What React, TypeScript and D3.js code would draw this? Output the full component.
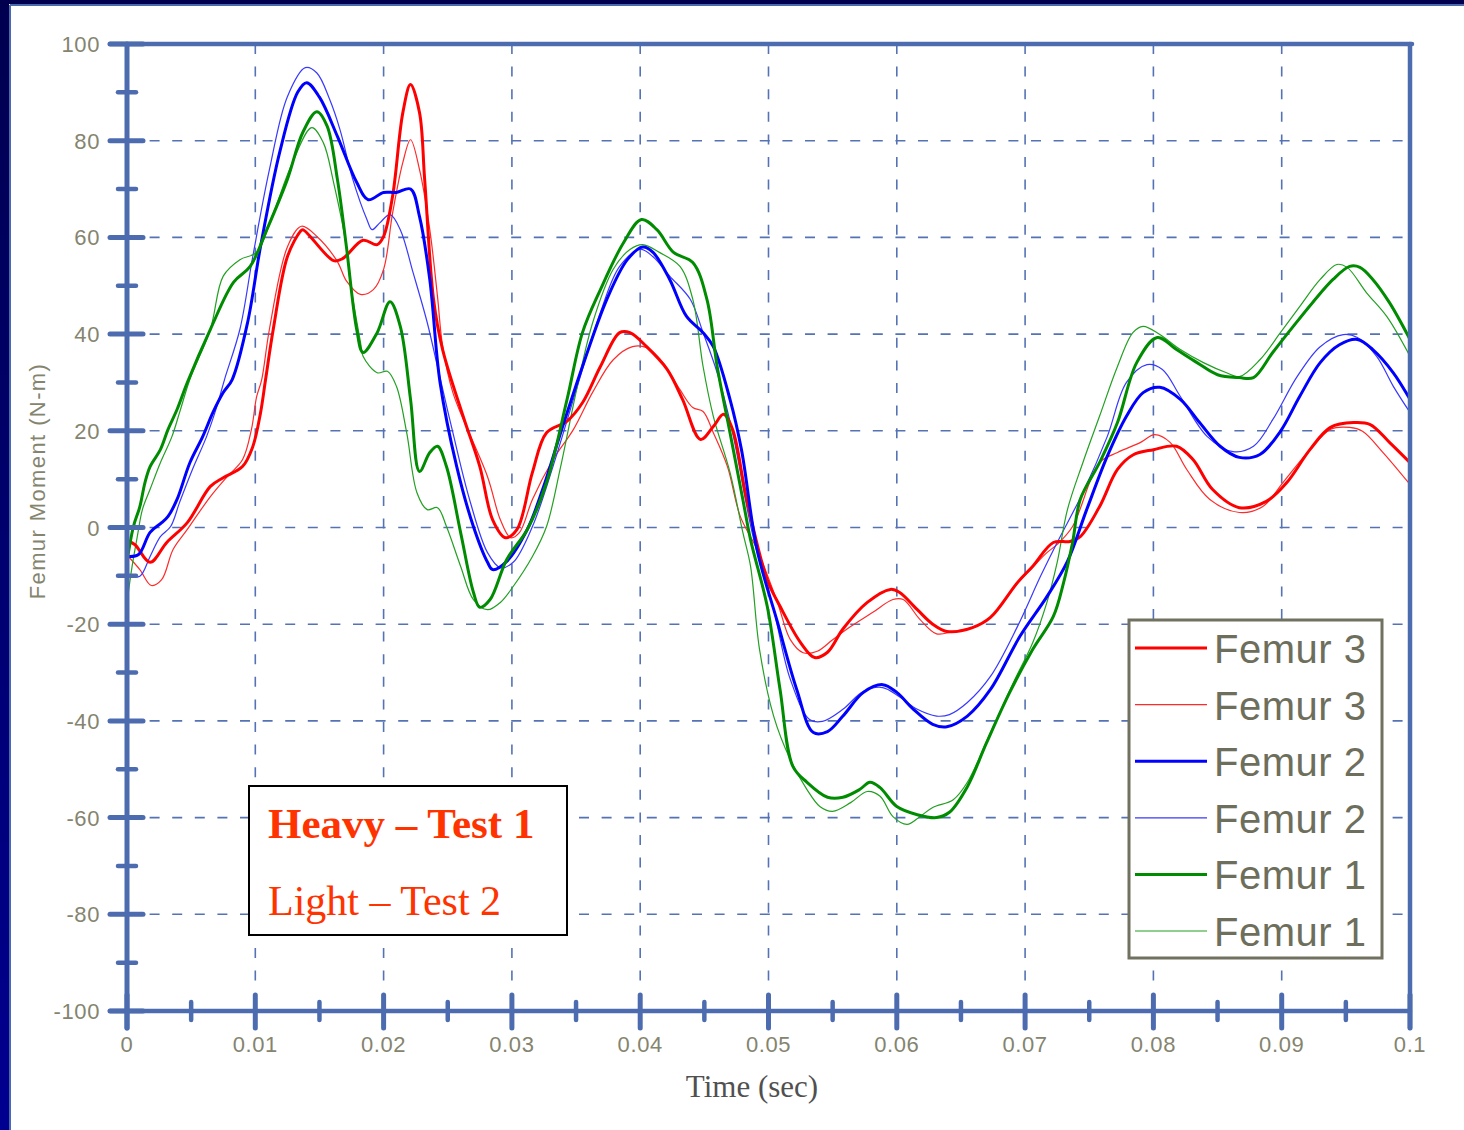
import React from "react";
import * as d3 from "d3";

// time in milliseconds, femur moment in N-m
const heavyFemur3: [number, number][] = [
  [0,-2.8],[0.6,-3.5],[1.8,-7.2],[3.1,-3.1],[4.7,1.0],[6.5,8.5],[7.5,10.3],[9.0,12.6],[9.8,16.7],[10.4,23.6],[10.8,30.6],[11.4,41],[12.5,56],[13.5,61.2],[13.7,61.6],[16.1,55.2],[16.8,55.6],[18.4,59.4],[19.5,58.5],[20.0,60.2],[20.7,68.5],[21.5,85.8],[22.1,91.6],[22.8,85.8],[23.2,72],[23.9,47],[24.6,36.8],[26.2,23],[27.5,12.6],[28.5,1.6],[29.5,-2.1],[30.4,-0.4],[31.6,11.4],[32.7,19.6],[34.3,22],[35.5,25.8],[36.9,33.3],[38.4,40.3],[39.2,40.3],[40.5,37.4],[42.1,32.7],[43.3,26.5],[44.7,18.2],[45.7,20.9],[46.5,23.4],[47.2,20.3],[48.3,5.8],[49.9,-10.8],[50.9,-16.3],[52.5,-23.8],[53.6,-26.9],[54.6,-25.8],[55.8,-21],[57.7,-15.5],[59.5,-12.8],[60.2,-13.4],[61.6,-17],[62.8,-20],[63.9,-21.5],[65.9,-20.7],[67.3,-18.6],[69.4,-11.4],[70.6,-8],[72.2,-3.1],[73.5,-2.9],[74.3,-1.9],[75.8,4.3],[77.2,12],[78.4,15],[80.0,16.1],[81.8,16.8],[83.1,14],[84.6,7.9],[86.7,4.1],[88.8,5.4],[90.4,9.3],[92.2,16.1],[93.8,20.7],[95.6,21.7],[96.9,21.3],[98.4,17.6],[100,13.4]
];
const lightFemur3: [number, number][] = [
  [0.1,-6],[1.0,-8.7],[1.9,-12],[2.7,-10.8],[3.6,-4.5],[4.7,-0.4],[6.5,6.4],[7.8,10.5],[9.0,14],[9.7,20.3],[10.1,27],[10.5,30.6],[11.1,41],[12.5,58],[13.6,62.3],[14.8,60.2],[16.4,55],[17.1,51],[18.2,48.2],[19.2,49.2],[20.0,53.4],[20.7,65],[21.5,75.5],[22.1,80.2],[22.8,74],[23.6,61.6],[24.2,47.8],[24.6,37.5],[25.4,27.9],[28.1,10.5],[29.1,1.6],[29.9,-2.1],[30.6,-1],[31.6,5.8],[33.2,14],[34.8,20.3],[36.3,28],[37.9,34.7],[39.4,37.4],[40.5,37.2],[41.8,34],[43.1,28.5],[44.1,24.8],[44.9,24],[45.7,19.6],[46.8,12.6],[47.8,2.3],[49.1,-4.5],[50.7,-15.5],[51.7,-23.2],[52.7,-25.9],[53.8,-25.6],[55.0,-23.2],[56.4,-20.5],[58.1,-17.6],[59.7,-14.9],[60.5,-14.9],[61.8,-19],[63.1,-22],[64.4,-21.5],[65.9,-20.7],[67.3,-18.6],[69.4,-11.6],[70.6,-8.2],[71.7,-5.2],[72.5,-3.5],[73.7,0.2],[75.8,13.4],[77.2,15.5],[79.0,17.6],[80.1,19.2],[81.3,17.6],[82.6,12],[84.4,5.8],[86.7,3.1],[88.5,4.3],[90.1,9.3],[92.0,15.5],[93.8,20.3],[95.3,20.7],[96.3,19.9],[97.9,15.5],[100,8.9]
];
const heavyFemur2: [number, number][] = [
  [0.1,-6],[0.9,-5.6],[1.8,-1],[2.7,1],[3.2,2.3],[3.9,5.8],[4.9,13.4],[5.9,18.8],[6.7,23.8],[7.5,27.9],[8.2,30.6],[9.4,42.4],[10.4,58],[11.9,77.6],[13.3,90],[14.0,92],[15.0,89],[16.4,80.9],[17.9,71.4],[18.8,67.8],[20.0,69.3],[21.0,69.3],[22.1,70],[22.8,64.3],[23.6,51.3],[24.4,30],[25.7,12.6],[27.0,0.2],[28.1,-7.2],[28.5,-8.7],[29.6,-7],[31.2,-0.4],[32.4,7.9],[33.8,19.6],[35.5,33.3],[37.4,47.2],[39.0,55.4],[40.2,58],[41.0,56.9],[42.3,51.3],[43.6,43.7],[44.9,40.3],[45.7,37.4],[47.0,26.5],[47.9,16],[49.1,-4.5],[50.7,-19.6],[52.2,-33.5],[53.5,-42.4],[54.6,-42.2],[55.8,-39],[57.4,-34.1],[58.9,-32.5],[60.0,-34.1],[61.3,-37.6],[62.8,-40.7],[63.9,-41.2],[65.5,-39],[67.3,-33.5],[69.6,-22.5],[71.7,-14.3],[73.3,-7],[74.8,3.7],[76.4,14.7],[77.9,23],[79.2,27.9],[80.5,29],[82.1,26.5],[83.6,21.7],[85.2,16.8],[86.7,14.5],[88.3,15.1],[89.9,19.9],[91.4,27.1],[93.0,34.1],[94.5,37.8],[95.9,38.9],[97.1,36.8],[98.7,32],[100,26.5]
];
const lightFemur2: [number, number][] = [
  [0.2,-10.1],[1.0,-10.1],[1.8,-6],[2.6,-1.9],[3.4,0.2],[4.1,5.2],[5.1,12],[6.2,18.8],[7.0,25],[7.6,30.6],[8.8,41],[9.8,56],[11.1,74],[12.5,89.1],[13.9,95.1],[14.8,94],[15.8,88.5],[16.6,82.3],[17.6,72],[18.7,63.7],[19.1,61.6],[19.7,63],[20.5,64.7],[21.3,61.6],[22.3,52.7],[23.4,42.4],[24.2,33.3],[25.4,19.6],[26.7,5.8],[28.1,-5.2],[29.1,-8.3],[30.1,-7.2],[31.6,0.2],[33.2,12.6],[35.1,29.2],[36.9,44.5],[38.4,54],[40.0,57.5],[41.0,56],[42.3,52],[43.9,47.2],[44.9,40.3],[46.0,32],[47.2,19.6],[48.8,-1.9],[50.4,-17],[51.7,-31.4],[53.2,-39.7],[54.2,-40.1],[55.8,-37.6],[57.4,-33.9],[58.9,-33.1],[60.2,-35],[61.6,-37.6],[63.1,-39],[64.1,-38.7],[65.5,-36.2],[67.3,-30.8],[69.4,-20.5],[71.2,-10.1],[72.5,-3.1],[74.5,7.2],[76.4,18.8],[77.9,30],[79.5,33.7],[80.7,32.7],[82.1,27.1],[84.2,18.8],[86.2,15.7],[87.8,16.8],[89.3,22.3],[91.2,31.2],[93.0,37.4],[94.8,39.9],[95.9,39.3],[97.4,35.4],[98.7,29.2],[100,23.8]
];
const heavyFemur1: [number, number][] = [
  [0,-7],[0.5,0.2],[1.0,4.3],[1.4,9.3],[1.8,12.6],[2.6,16.1],[3.2,20.3],[3.9,24.4],[4.7,30],[6.5,41],[8.3,50.7],[9.6,54],[10.9,61.6],[12.5,72],[13.7,81.7],[14.8,86],[15.6,83],[16.4,72],[17.1,58.1],[17.9,41],[18.4,36.2],[19.5,40.3],[20.5,46.7],[21.3,41.6],[22.1,26.5],[22.8,11.6],[23.6,15.5],[24.2,16.8],[24.9,12.6],[26.0,-1],[27.0,-13.4],[27.5,-16.5],[28.3,-14.9],[29.6,-6.6],[31.2,-0.4],[32.7,9.3],[34.3,26.5],[35.5,40.3],[36.9,49.2],[38.7,58.9],[40.1,63.7],[41.3,61.6],[42.6,56.9],[44.1,54.8],[45.2,47.2],[46.0,33.3],[47.0,19.6],[48.0,5.8],[48.6,-2.5],[49.9,-16.3],[50.9,-33.5],[51.9,-49.4],[53.0,-52.7],[54.6,-55.8],[55.8,-55.8],[57.1,-54.2],[57.9,-52.7],[58.7,-53.8],[60.0,-57.7],[61.6,-59.4],[63.1,-60],[64.1,-58.9],[65.5,-53.6],[67.0,-44.5],[68.8,-34.1],[70.6,-25.2],[72.2,-18.4],[73.0,-11.4],[73.7,-3.1],[74.3,5.8],[75.8,13.4],[77.2,21.7],[78.7,34.1],[80.3,39.3],[81.8,36.8],[83.4,34.1],[85.0,31.6],[86.7,31],[87.8,31],[89.3,36.2],[90.9,41.6],[92.4,46.5],[94.0,51.3],[95.3,54],[96.1,53.8],[97.1,51.3],[98.4,46.5],[100,38.9]
];
const lightFemur1: [number, number][] = [
  [0,-15.5],[0.4,-8],[0.8,-1.9],[1.2,3.7],[1.8,7.9],[2.6,13.4],[3.5,18.8],[4.1,23.8],[4.9,30.6],[6.5,41],[7.5,52],[8.8,55.4],[10.1,56.9],[11.4,65],[12.9,75.5],[14.4,82.7],[15.3,79.6],[16.1,71.4],[17.1,58.1],[17.4,50.7],[18.2,38.3],[18.4,35.4],[19.5,32],[20.3,32.3],[21.0,29.2],[21.8,19.6],[22.6,7.2],[23.4,3.7],[24.2,4.1],[24.9,0.2],[26.0,-8],[27.0,-14.9],[28.1,-17],[29.1,-15.5],[30.1,-12.2],[31.6,-6],[32.7,0.2],[33.8,12.6],[35.1,29.2],[36.3,42.4],[37.9,53.4],[39.2,57.5],[40.2,58.5],[41.5,56.9],[43.1,54],[44.1,47.2],[44.9,33.3],[45.7,23],[47.0,11.4],[48.0,-1],[48.6,-8],[49.3,-25.2],[50.4,-39],[51.7,-48],[53.0,-54.2],[54.0,-57.7],[55.0,-58.7],[56.4,-56.9],[57.7,-54.6],[58.7,-55.6],[59.7,-59.8],[60.8,-61.4],[61.8,-59.8],[62.8,-57.9],[64.4,-56.3],[65.5,-52.7],[67.3,-42.4],[69.1,-32],[70.6,-23.8],[71.7,-15.5],[72.5,-7.2],[73.3,3.7],[74.5,13.4],[75.8,23],[77.2,33.3],[78.4,40.3],[79.2,41.6],[80.5,39.9],[82.1,36.8],[83.9,34.1],[85.7,32],[86.7,31.2],[88.3,34.7],[89.9,40.3],[91.4,45.7],[93.0,51.3],[94.3,54.4],[95.1,53.8],[96.6,48.6],[98.2,43.6],[100,35.4]
];

const xTicks = [0, 0.01, 0.02, 0.03, 0.04, 0.05, 0.06, 0.07, 0.08, 0.09, 0.1];
const xTickLabels = ["0", "0.01", "0.02", "0.03", "0.04", "0.05", "0.06", "0.07", "0.08", "0.09", "0.1"];
const yTicks = [-100, -80, -60, -40, -20, 0, 20, 40, 60, 80, 100];
const yMinorTicks = [-90, -70, -50, -30, -10, 10, 30, 50, 70, 90];
const xMinorTicks = [0.005, 0.015, 0.025, 0.035, 0.045, 0.055, 0.065, 0.075, 0.085, 0.095];
const legendLabels = ["Femur 3", "Femur 3", "Femur 2", "Femur 2", "Femur 1", "Femur 1"];

const AX = "#4d6cb0";
const GRID = "#5573b4";
const LABEL = "#84846f";

export default function App() {
  const L = 127, R = 1410, T = 44, B = 1011;
  const x = d3.scaleLinear().domain([0, 0.1]).range([L, R]);
  const y = d3.scaleLinear().domain([-100, 100]).range([B, T]);
  const line = d3
    .line<[number, number]>()
    .x((d) => x(d[0] / 1000))
    .y((d) => y(d[1]))
    .curve(d3.curveCatmullRom.alpha(0.5));

  const series = [
    { data: lightFemur3, color: "#ff2a2a", w: 1.2 },
    { data: lightFemur2, color: "#3838ff", w: 1.2 },
    { data: lightFemur1, color: "#22a022", w: 1.2 },
    { data: heavyFemur3, color: "#ff0000", w: 3 },
    { data: heavyFemur2, color: "#0000ff", w: 3 },
    { data: heavyFemur1, color: "#008c00", w: 3 },
  ];
  const legendSeries = [
    { color: "#ff0000", w: 3 },
    { color: "#ff2a2a", w: 1.2 },
    { color: "#0000ff", w: 3 },
    { color: "#3838ff", w: 1.2 },
    { color: "#008c00", w: 3 },
    { color: "#22a022", w: 1.2 },
  ];

  return (
    <svg
      width={1464}
      height={1130}
      style={{ position: "absolute", left: 0, top: 0, display: "block" }}
      fontFamily="'Liberation Sans', Arial, sans-serif"
    >
      <defs>
        <linearGradient id="navy" x1="0" y1="0" x2="0" y2="1">
          <stop offset="0" stopColor="#00004f" />
          <stop offset="1" stopColor="#000090" />
        </linearGradient>
        <clipPath id="plotClip">
          <rect x={L} y={T} width={R - L} height={B - T} />
        </clipPath>
      </defs>
      <rect x={0} y={0} width={1464} height={1130} fill="url(#navy)" />
      <rect x={9} y={4} width={1455} height={1126} fill="#ffffff" />
      <line x1={10} y1={5} x2={1464} y2={5} stroke="#4a6aad" strokeWidth={2} />
      <line x1={10} y1={5} x2={10} y2={1130} stroke="#4a6aad" strokeWidth={2} />

      {/* grid */}
      {yTicks.filter((v) => v > -100 && v < 100).map((v) => (
        <line key={"gy" + v} x1={L} x2={R} y1={y(v)} y2={y(v)} stroke={GRID} strokeWidth={1.6} strokeDasharray="10,12.6" />
      ))}
      {xTicks.filter((v) => v > 0 && v < 0.1).map((v) => (
        <line key={"gx" + v} x1={x(v)} x2={x(v)} y1={T} y2={B} stroke={GRID} strokeWidth={1.6} strokeDasharray="10,12.6" />
      ))}

      {/* curves */}
      <g clipPath="url(#plotClip)">
        {series.map((s, i) => (
          <path key={i} d={line(s.data) || ""} fill="none" stroke={s.color} strokeWidth={s.w} strokeLinejoin="round" />
        ))}
      </g>

      {/* frame / axes */}
      <g stroke={AX} strokeLinecap="round">
        <line x1={110} x2={R + 2} y1={T} y2={T} strokeWidth={4.5} />
        <line x1={R} x2={R} y1={T} y2={1028} strokeWidth={4.5} />
        <line x1={110} x2={R} y1={B} y2={B} strokeWidth={4.5} />
        <line x1={L} x2={L} y1={T} y2={1028} strokeWidth={5} />
        {yTicks.map((v) => (
          <line key={"ty" + v} x1={110} x2={143} y1={y(v)} y2={y(v)} strokeWidth={5} />
        ))}
        {yMinorTicks.map((v) => (
          <line key={"tym" + v} x1={118} x2={136} y1={y(v)} y2={y(v)} strokeWidth={4.5} />
        ))}
        {xTicks.map((v) => (
          <line key={"tx" + v} x1={x(v)} x2={x(v)} y1={995} y2={1028} strokeWidth={5} />
        ))}
        {xMinorTicks.map((v) => (
          <line key={"txm" + v} x1={x(v)} x2={x(v)} y1={1002} y2={1020} strokeWidth={4.5} />
        ))}
      </g>

      {/* tick labels */}
      <g fill={LABEL} fontSize={22} letterSpacing={0.6}>
        {yTicks.map((v) => (
          <text key={"ly" + v} x={100} y={y(v) + 8} textAnchor="end">{String(v)}</text>
        ))}
        {xTicks.map((v, i) => (
          <text key={"lx" + v} x={x(v)} y={1052} textAnchor="middle">{xTickLabels[i]}</text>
        ))}
      </g>

      {/* axis titles */}
      <text transform="translate(45,481) rotate(-90)" textAnchor="middle" fill={LABEL} fontSize={22} letterSpacing={1.4}>
        Femur Moment (N-m)
      </text>
      <text x={752} y={1097} textAnchor="middle" fill="#505050" fontSize={31} fontFamily="'Liberation Serif', 'Times New Roman', serif">
        Time (sec)
      </text>

      {/* annotation box */}
      <rect x={249} y={786} width={318} height={149} fill="#ffffff" stroke="#000000" strokeWidth={2} />
      <text x={268} y={838} fill="#ff3300" fontSize={43} fontWeight="bold" fontFamily="'Liberation Serif', 'Times New Roman', serif">
        Heavy – Test 1
      </text>
      <text x={268} y={915} fill="#ff3300" fontSize={42} fontFamily="'Liberation Serif', 'Times New Roman', serif">
        Light – Test 2
      </text>

      {/* legend */}
      <rect x={1129} y={620} width={253} height={338} fill="#ffffff" stroke="#717160" strokeWidth={3} />
      {legendSeries.map((s, i) => {
        const ly = 648 + i * 56.6;
        return (
          <g key={"lg" + i}>
            <line x1={1135} x2={1207} y1={ly} y2={ly} stroke={s.color} strokeWidth={s.w} />
            <text x={1214} y={ly + 15} fill="#6e6e5c" fontSize={40} letterSpacing={0.5}>{legendLabels[i]}</text>
          </g>
        );
      })}
    </svg>
  );
}
